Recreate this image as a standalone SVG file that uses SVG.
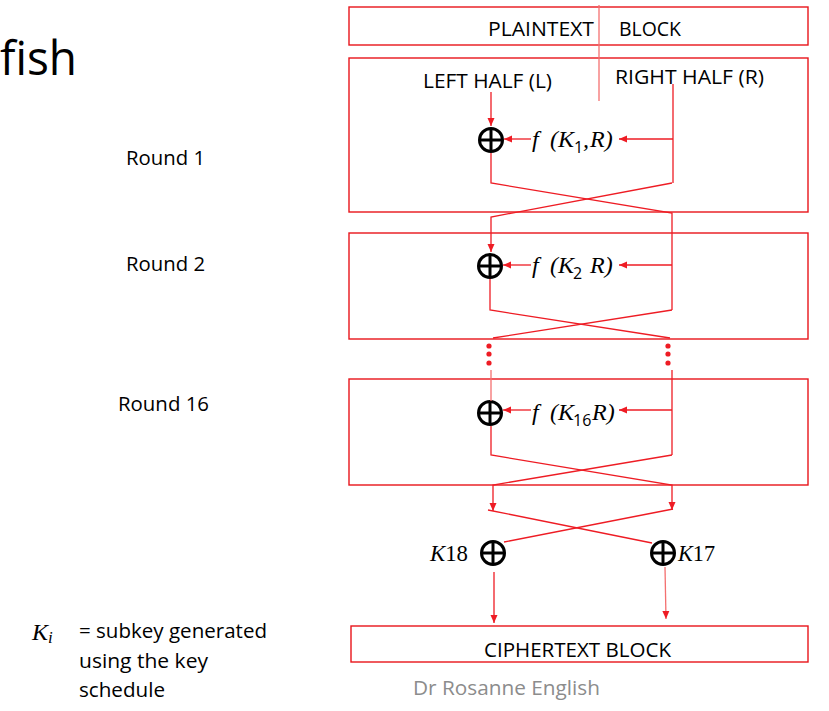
<svg xmlns="http://www.w3.org/2000/svg" width="829" height="711" viewBox="0 0 829 711">
<style>
.box{fill:#fff;stroke:#e8141b;stroke-width:1.4}
.ln{fill:none;stroke:#ee1c24;stroke-width:1.3}
.lt{fill:none;stroke:#f47070;stroke-width:1.3}
.xor{fill:none;stroke:#000;stroke-width:3}
.t{font-family:"Open Sans","Liberation Sans",sans-serif;font-size:20px;fill:#000}
.m{font-family:"Liberation Serif","DejaVu Serif",serif;font-style:italic;font-size:24px;fill:#000}
.sub{font-family:"Open Sans","Liberation Sans",sans-serif;font-style:normal;font-size:16px;fill:#000}
.dot{fill:#ee1c24}
</style>
<defs>
<marker id="ah" markerUnits="userSpaceOnUse" markerWidth="9" markerHeight="8" refX="8" refY="4" orient="auto">
<path d="M0,0.5 L8,4 L0,7.5 Z" fill="#ee1c24"/>
</marker>
<symbol id="x" overflow="visible">
<circle cx="0" cy="0" r="11.5" class="xor"/>
<line x1="-11.5" y1="0" x2="11.5" y2="0" class="xor"/>
<line x1="0" y1="-11.5" x2="0" y2="11.5" class="xor"/>
</symbol>
</defs>
<rect width="829" height="711" fill="#fff"/>

<text x="0" y="75" textLength="77" lengthAdjust="spacingAndGlyphs" style="font-family:'Open Sans','Liberation Sans',sans-serif;font-size:48px;fill:#000">fish</text>

<g id="plaintext">
<rect class="box" x="349" y="7" width="459" height="38"/>
<text class="t" x="488" y="36" textLength="106" lengthAdjust="spacingAndGlyphs">PLAINTEXT</text>
<text class="t" x="619" y="36" textLength="62" lengthAdjust="spacingAndGlyphs">BLOCK</text>
</g>

<g id="round1">
<rect class="box" x="349" y="58" width="459" height="154"/>
<text class="t" x="423" y="88" textLength="129" lengthAdjust="spacingAndGlyphs">LEFT HALF (L)</text>
<text class="t" x="615" y="84" textLength="149" lengthAdjust="spacingAndGlyphs">RIGHT HALF (R)</text>
<use href="#x" x="491" y="140"/>
<text class="m" y="147"><tspan x="532">f</tspan><tspan x="550">(K</tspan><tspan class="sub" x="574" dy="6">1</tspan><tspan x="583" dy="-6">,</tspan><tspan x="590">R)</tspan></text>
</g>

<g id="round2">
<rect class="box" x="349" y="233" width="459" height="106"/>
<use href="#x" x="490" y="266"/>
<text class="m" y="273"><tspan x="532">f</tspan><tspan x="550">(K</tspan><tspan class="sub" x="573" dy="6">2</tspan><tspan x="590" dy="-6">R)</tspan></text>
</g>

<g id="round16">
<rect class="box" x="349" y="379" width="459" height="106"/>
<use href="#x" x="490" y="413"/>
<text class="m" y="420"><tspan x="532">f</tspan><tspan x="550">(K</tspan><tspan class="sub" x="573" dy="6">16</tspan><tspan x="592" dy="-6">R)</tspan></text>
</g>

<g id="xor18">
<use href="#x" x="493" y="553"/>
<text class="m" x="430" y="561" textLength="38" lengthAdjust="spacingAndGlyphs">K<tspan font-style="normal">18</tspan></text>
</g>
<g id="xor17">
<use href="#x" x="663" y="553"/>
<text class="m" x="678" y="561" textLength="37" lengthAdjust="spacingAndGlyphs">K<tspan font-style="normal">17</tspan></text>
</g>

<g id="ciphertext">
<rect class="box" x="351" y="626" width="457" height="36"/>
<text class="t" x="484" y="657" textLength="187" lengthAdjust="spacingAndGlyphs">CIPHERTEXT BLOCK</text>
</g>

<g id="labels">
<text class="t" x="126" y="165" textLength="79" lengthAdjust="spacingAndGlyphs">Round 1</text>
<text class="t" x="126" y="271" textLength="79" lengthAdjust="spacingAndGlyphs">Round 2</text>
<text class="t" x="118" y="411" textLength="91" lengthAdjust="spacingAndGlyphs">Round 16</text>
<text class="m" x="32" y="640">K<tspan font-size="17" dy="3">i</tspan></text>
<text class="t" x="79" y="638" textLength="188" lengthAdjust="spacingAndGlyphs">= subkey generated</text>
<text class="t" x="79" y="668" textLength="129" lengthAdjust="spacingAndGlyphs">using the key</text>
<text class="t" x="79" y="697" textLength="86" lengthAdjust="spacingAndGlyphs">schedule</text>
<text x="413" y="695" textLength="187" lengthAdjust="spacingAndGlyphs" style="font-family:'Open Sans','Liberation Sans',sans-serif;font-size:20px;fill:#8c8c8c">Dr Rosanne English</text>
</g>

<g id="connectors">
<line class="lt" x1="599" y1="5" x2="599" y2="101"/>
<!-- round 1 -->
<line class="ln" x1="491" y1="92" x2="491" y2="126" marker-end="url(#ah)"/>
<polyline class="ln" points="673,84 673,183"/>
<line class="ln" x1="673" y1="139" x2="619" y2="139" marker-end="url(#ah)"/>
<line class="ln" x1="531" y1="139" x2="504" y2="139" marker-end="url(#ah)"/>
<polyline class="ln" points="491,153 491,183 672,213 672,310"/>
<polyline class="ln" points="672,183 491,217 491,252" marker-end="url(#ah)"/>
<!-- round 2 -->
<line class="ln" x1="672" y1="265" x2="619" y2="265" marker-end="url(#ah)"/>
<line class="ln" x1="531" y1="265" x2="503" y2="265" marker-end="url(#ah)"/>
<polyline class="ln" points="490,279 490,310 670,338"/>
<polyline class="ln" points="672,310 493,338"/>
<circle class="dot" cx="489" cy="346" r="2.6"/>
<circle class="dot" cx="489" cy="354" r="2.6"/>
<circle class="dot" cx="489" cy="363" r="2.6"/>
<circle class="dot" cx="668" cy="346" r="2.6"/>
<circle class="dot" cx="668" cy="354" r="2.6"/>
<circle class="dot" cx="668" cy="363" r="2.6"/>
<!-- round 16 -->
<line class="lt" x1="491" y1="370" x2="491" y2="401"/>
<line class="ln" x1="672" y1="370" x2="672" y2="455"/>
<line class="ln" x1="672" y1="410" x2="619" y2="410" marker-end="url(#ah)"/>
<line class="ln" x1="531" y1="410" x2="503" y2="410" marker-end="url(#ah)"/>
<polyline class="ln" points="491,426 491,455 672,485 672,510" marker-end="url(#ah)"/>
<polyline class="ln" points="672,455 493,485 493,511" marker-end="url(#ah)"/>
<!-- final swap -->
<line class="ln" x1="488" y1="510" x2="652" y2="543"/>
<line class="ln" x1="673" y1="509" x2="504" y2="542"/>
<line class="ln" x1="494" y1="572" x2="494" y2="623" marker-end="url(#ah)"/>
<line class="lt" x1="665" y1="567" x2="666" y2="619" marker-end="url(#ah)"/>
</g>
</svg>
